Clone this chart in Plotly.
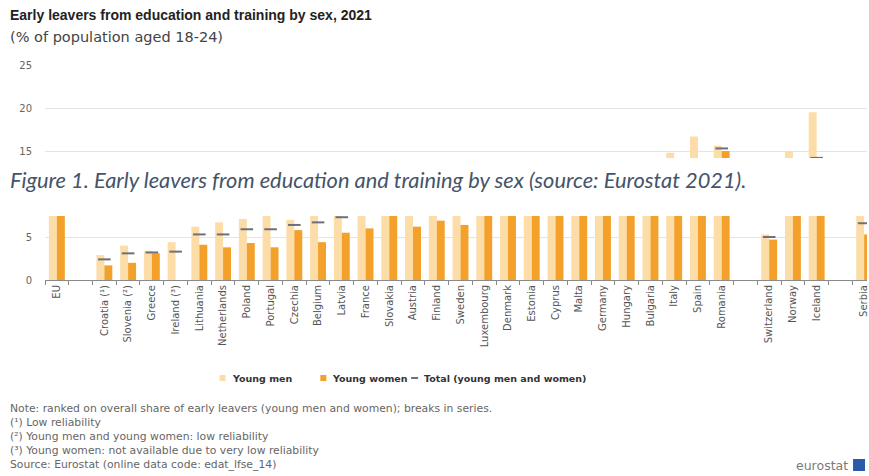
import plotly.graph_objects as go

# Early leavers from education and training by sex, 2021 (% of population aged 18-24)
countries = [
    "EU", " ", "Croatia (¹)", "Slovenia (²)", "Greece", "Ireland (³)", "Lithuania",
    "Netherlands", "Poland", "Portugal", "Czechia", "Belgium", "Latvia", "France",
    "Slovakia", "Austria", "Finland", "Sweden", "Luxembourg", "Denmark", "Estonia",
    "Cyprus", "Malta", "Germany", "Hungary", "Bulgaria", "Italy", "Spain", "Romania",
    "  ", "Switzerland", "Norway", "Iceland", "   ", "Serbia",
]
young_men = [
    11.4, None, 2.9, 4.0, 3.4, 4.4, 6.2,
    6.7, 7.1, 8.0, 7.0, 8.8, 9.0, 9.5,
    7.8, 9.6, 9.5, 10.3, 10.5, 11.6, 11.8,
    13.2, 12.6, 12.6, 12.7, 12.4, 14.8, 16.7, 15.6,
    None, 5.3, 15.0, 19.5, None, 7.9,
]
young_women = [
    7.9, None, 1.7, 2.0, 3.1, None, 4.1,
    3.8, 4.3, 3.8, 5.8, 4.4, 5.5, 6.0,
    7.9, 6.2, 6.9, 6.4, 8.0, 8.0, 7.8,
    7.9, 8.6, 10.9, 11.3, 12.0, 10.5, 9.7, 15.0,
    None, 4.7, 9.4, 8.4, None, 5.3,
]
total = [
    9.7, None, 2.4, 3.1, 3.2, 3.3, 5.3,
    5.3, 5.9, 5.9, 6.4, 6.7, 7.3, 7.8,
    7.8, 8.0, 8.2, 8.4, 9.3, 9.8, 9.8,
    10.2, 10.7, 11.8, 12.0, 12.2, 12.7, 13.3, 15.3,
    None, 5.0, 12.1, 14.2, None, 6.6,
]
y_ticks = [0, 5, 10, 15, 20, 25]
# the 10 label sits under the caption band, so it is left blank
y_tick_labels = ["0", "5", "", "15", "20", "25"]

notes = [
    "Note: ranked on overall share of early leavers (young men and women); breaks in series.",
    "(¹) Low reliability",
    "(²) Young men and young women: low reliability",
    "(³) Young women: not available due to very low reliability",
    "Source: Eurostat (online data code: edat_lfse_14)",
]

MEN = "#FCDDA8"
WOMEN = "#F3A12B"
TOTAL = "#6F6F7A"
FONT = "Liberation Sans, Arial, sans-serif"
WIDE = "DejaVu Sans, Verdana, sans-serif"

W, H = 869, 476
L, R, T, B = 45, 0, 65, 196
PW, PH = W - L - R, H - T - B


def px(x, y):
    """Pixel position on the page -> paper coordinates."""
    return (x - L) / PW, (H - B - y) / PH


fig = go.Figure()
fig.add_bar(x=countries, y=young_men, name="Young men", marker_color=MEN,
            marker_line_width=0)
fig.add_bar(x=countries, y=young_women, name="Young women", marker_color=WOMEN,
            marker_line_width=0)
fig.add_scatter(x=countries, y=total, mode="markers", name="Total (young men and women)",
                marker=dict(symbol="line-ew", size=9, color=TOTAL,
                            line=dict(width=2, color=TOTAL)))

annotations = []
shapes = []


def text(x, y, s, size, color="#444", bold=False, italic=False, family=FONT,
         xanchor="left"):
    xp, yp = px(x, y)
    if bold:
        s = f"<b>{s}</b>"
    if italic:
        s = f"<i>{s}</i>"
    annotations.append(dict(x=xp, y=yp, xref="paper", yref="paper", text=s,
                            showarrow=False, xanchor=xanchor, yanchor="middle",
                            font=dict(size=size, color=color, family=family)))


def rect(x0, y0, x1, y1, color, layer="above"):
    a0, b0 = px(x0, y0)
    a1, b1 = px(x1, y1)
    shapes.append(dict(type="rect", xref="paper", yref="paper", x0=a0, y0=b0,
                       x1=a1, y1=b1, fillcolor=color, line=dict(width=0),
                       layer=layer))


# Heading
text(8, 15, "Early leavers from education and training by sex, 2021", 14,
     color="#222", bold=True)
text(8, 37, "(% of population aged 18-24)", 14.5, color="#444", family=WIDE)

# Caption band laid across the chart
rect(0, 158, W, 216, "#FFFFFF")
text(8, 179, "Figure 1. Early leavers from education and training by sex "
     "(source: Eurostat 2021).", 21.8, color="#44546A", italic=True,
     family="Lato, Open Sans, sans-serif")

# Legend
rect(220, 375, 226, 381, MEN)
text(230, 378, "Young men", 9.5, color="#333", bold=True, family=WIDE)
rect(321, 375, 327, 381, WOMEN)
text(331, 378, "Young women", 9.5, color="#333", bold=True, family=WIDE)
rect(412, 377, 419, 379, TOTAL)
text(423, 378, "Total (young men and women)", 9.5, color="#333", bold=True,
     family=WIDE)

# Notes and source
for i, line in enumerate(notes):
    text(8, 408 + i * 14.2, line, 10.8, color="#666", family=WIDE)

# Logo
text(852, 465, "eurostat", 12.5, color="#7A7A7A", xanchor="right", family=WIDE)
rect(855, 459, 867, 471, "#2B5BA8")

fig.update_layout(
    width=W, height=H,
    margin=dict(l=L, r=R, t=T, b=B),
    paper_bgcolor="white", plot_bgcolor="white",
    barmode="group", bargap=0.33, bargroupgap=0.0,
    showlegend=False,
    font=dict(family=WIDE, color="#555"),
    annotations=annotations, shapes=shapes,
    xaxis=dict(
        type="category", categoryorder="array", categoryarray=countries,
        range=[-0.5, 34.12], tickangle=-90,
        tickfont=dict(size=10, color="#555", family=WIDE),
        ticks="outside", tickson="boundaries", ticklen=4, tickcolor="#8A8A8A",
        showline=True, linecolor="#8A8A8A", linewidth=1, showgrid=False,
    ),
    yaxis=dict(
        range=[0, 25], tickvals=y_ticks, ticktext=y_tick_labels,
        tickfont=dict(size=10, color="#666", family=WIDE),
        showgrid=True, gridcolor="#E4E4E4", gridwidth=1, zeroline=False,
        showline=False, ticks="outside", ticklen=10, tickcolor="rgba(0,0,0,0)",
    ),
)

fig.write_html("out.html")
